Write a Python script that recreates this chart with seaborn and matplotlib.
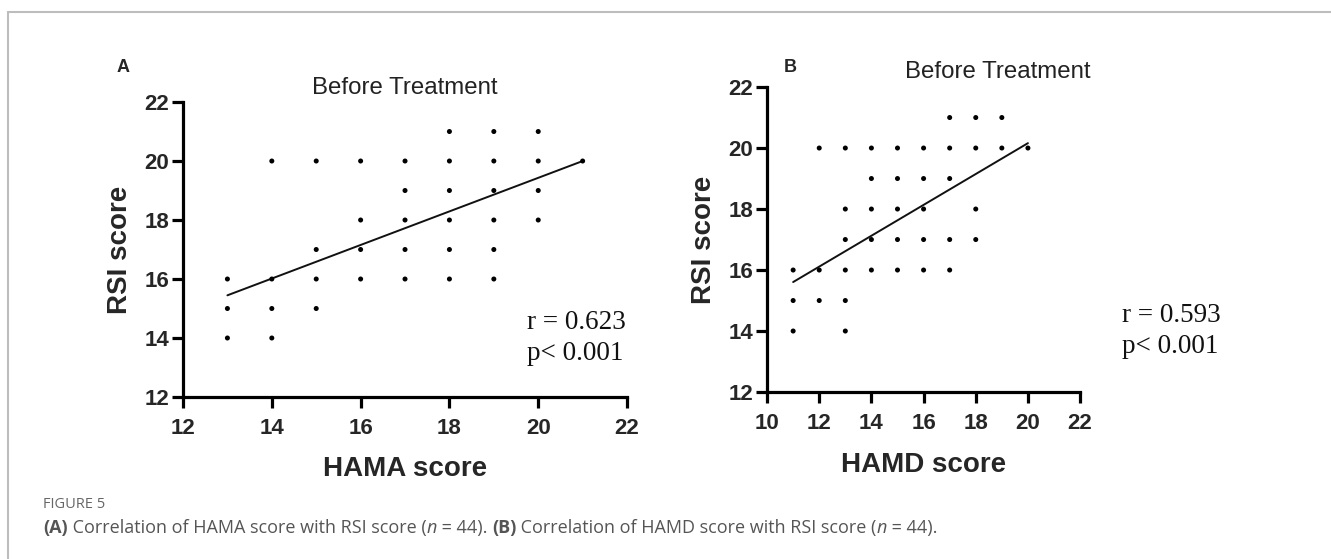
import numpy as np
import pandas as pd
import matplotlib
matplotlib.use("Agg")
import matplotlib.pyplot as plt
import seaborn as sns

# ---------------- data ----------------
hama_x = [13, 13, 13, 14, 14, 14, 14, 15, 15, 15, 15, 16, 16, 16, 16,
          17, 17, 17, 17, 17, 18, 18, 18, 18, 18, 18, 19, 19, 19, 19, 19, 19,
          20, 20, 20, 20, 21]
hama_rsi = [14, 15, 16, 14, 15, 16, 20, 15, 16, 17, 20, 16, 17, 18, 20,
            16, 17, 18, 19, 20, 16, 17, 18, 19, 20, 21, 16, 17, 18, 19, 20, 21,
            18, 19, 20, 21, 20]
hamd_x = [11, 11, 11, 12, 12, 12, 13, 13, 13, 13, 13, 13,
          14, 14, 14, 14, 14, 15, 15, 15, 15, 15, 16, 16, 16, 16, 16,
          17, 17, 17, 17, 17, 18, 18, 18, 18, 19, 19, 20]
hamd_rsi = [14, 15, 16, 15, 16, 20, 14, 15, 16, 17, 18, 20,
            16, 17, 18, 19, 20, 16, 17, 18, 19, 20, 16, 17, 18, 19, 20,
            16, 17, 19, 20, 21, 17, 18, 20, 21, 20, 21, 20]
# fitted lines (slope, intercept)
fit_a = [0.569, 8.05]
fit_b = [0.506, 10.04]
stats_a = ["r = 0.623", "p< 0.001"]
stats_b = ["r = 0.593", "p< 0.001"]
xticks_a = [12, 14, 16, 18, 20, 22]
xticks_b = [10, 12, 14, 16, 18, 20, 22]
yticks = [12, 14, 16, 18, 20, 22]

sns.set_theme(style="white")
plt.rcParams['font.family'] = ['Liberation Sans', 'DejaVu Sans']

fig = plt.figure(figsize=(13.31, 5.59), dpi=100)
axA = fig.add_axes([0.1375, 0.2898, 0.3336, 0.5277])
axB = fig.add_axes([0.5763, 0.2987, 0.2352, 0.5456])

def panel(ax, xs, ys, fit, xticks, xlabel, stats, sx, sy, labelpad_x, tx, ty):
    df = pd.DataFrame({"x": xs, "y": ys})
    sns.scatterplot(data=df, x="x", y="y", ax=ax, color="black", s=13,
                    edgecolor="none", linewidth=0, zorder=3)
    lx = np.array([min(xs), max(xs)], dtype=float)
    ly = fit[0] * lx + fit[1]
    sns.lineplot(x=lx, y=ly, ax=ax, color="#111111", lw=1.4)
    ax.set_xlim(xticks[0], xticks[-1])
    ax.set_ylim(yticks[0], yticks[-1])
    ax.set_xticks(xticks)
    ax.set_yticks(yticks)
    for s in ["top", "right"]:
        ax.spines[s].set_visible(False)
    for s in ["left", "bottom"]:
        ax.spines[s].set_linewidth(2.3)
        ax.spines[s].set_color("black")
    ax.tick_params(axis="both", which="both", direction="out", length=8,
                   width=2.3, color="black", labelsize=16,
                   bottom=True, left=True)
    ax.tick_params(axis="x", pad=7)
    ax.tick_params(axis="y", pad=2)
    for lab in ax.get_xticklabels() + ax.get_yticklabels():
        lab.set_fontweight("bold")
    ax.set_xlabel(xlabel, fontsize=20, fontweight="bold", labelpad=labelpad_x)
    ax.set_ylabel("RSI score", fontsize=20, fontweight="bold", labelpad=8)
    for txt, yy in zip(stats, sy):
        ax.text(sx, yy, txt, transform=ax.transAxes, fontsize=19.5,
                family="Liberation Serif", ha="left", va="center", color="#111111")
    ax.text(tx, ty, "Before Treatment", transform=ax.transAxes, fontsize=17.3,
            color="#222222", ha="center", va="center")

panel(axA, hama_x, hama_rsi, fit_a, xticks_a, "HAMA score", stats_a,
      0.775, [0.251, 0.146], 12, 0.5, 1.047)
panel(axB, hamd_x, hamd_rsi, fit_b, xticks_b, "HAMD score", stats_b,
      1.134, [0.252, 0.148], 13, 0.738, 1.049)

fig.text(123 / 1331, 1 - 68 / 559, "A", fontsize=13, fontweight="bold", ha="center", va="center")
fig.text(790 / 1331, 1 - 68 / 559, "B", fontsize=13, fontweight="bold", ha="center", va="center")

# frame lines (top and left)
fig.add_artist(plt.Line2D([8 / 1331, 1.0], [1 - 12 / 559, 1 - 12 / 559], transform=fig.transFigure,
                          color="#bdbdbd", lw=1.5))
fig.add_artist(plt.Line2D([8 / 1331, 8 / 1331], [0.0, 1 - 12 / 559], transform=fig.transFigure,
                          color="#bdbdbd", lw=1.5))

# caption
fig.text(43 / 1331, 1 - 505 / 559, "FIGURE 5", fontsize=10.5, color="#666666",
         family="Open Sans", va="center")
pieces = [("(A)", "bold", "normal"), (" Correlation of HAMA score with RSI score (", "normal", "normal"),
          ("n", "normal", "italic"), (" = 44). ", "normal", "normal"),
          ("(B)", "bold", "normal"), (" Correlation of HAMD score with RSI score (", "normal", "normal"),
          ("n", "normal", "italic"), (" = 44).", "normal", "normal")]
fig.canvas.draw()
renderer = fig.canvas.get_renderer()
xpos = 43
for txt, w, st in pieces:
    t = fig.text(xpos / 1331, 1 - 528 / 559, txt, fontsize=13, color="#555555",
                 family="Open Sans", fontweight=w, style=st, va="center")
    bb = t.get_window_extent(renderer=renderer)
    xpos += bb.width

fig.savefig("out.png", dpi=100)
